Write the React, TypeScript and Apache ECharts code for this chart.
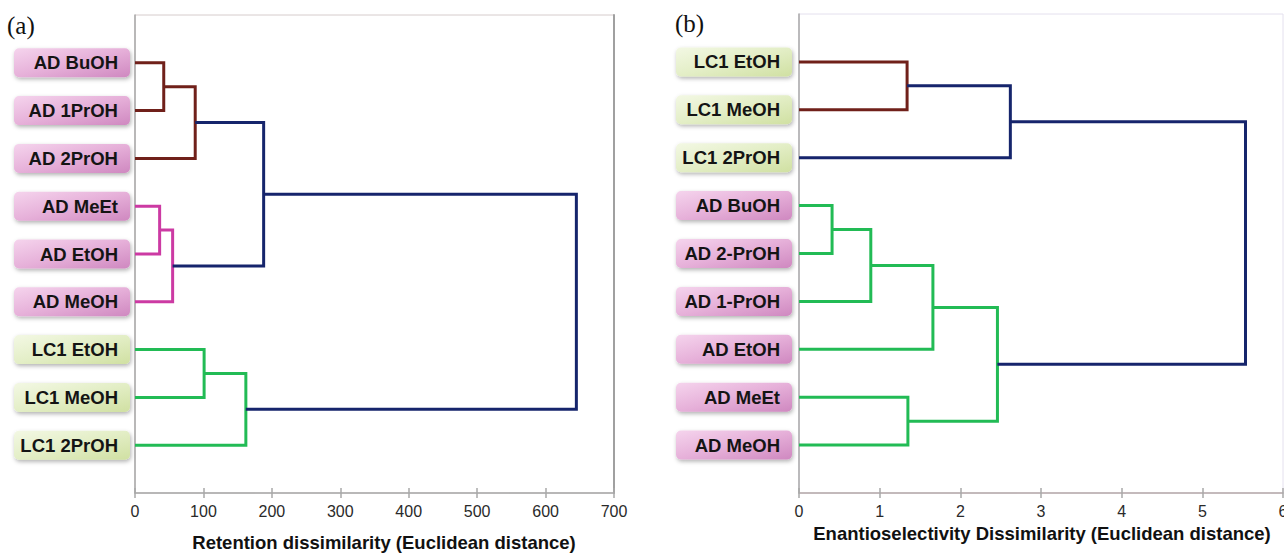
import React, { useEffect, useRef } from "react";
import * as echarts from "echarts";

// ---------- data ----------
const leftLeaves = ["AD BuOH", "AD 1PrOH", "AD 2PrOH", "AD MeEt", "AD EtOH", "AD MeOH", "LC1 EtOH", "LC1 MeOH", "LC1 2PrOH"];
// merges: child ids (0..8 leaves, 9+ earlier merges), height, group
const leftMergeA = [0, 9, 3, 11, 10, 6, 14, 13];
const leftMergeB = [1, 2, 4, 5, 12, 7, 8, 15];
const leftMergeHeight = [42, 88, 36, 55, 188, 101, 162, 645];
const leftMergeGroup = ["c1", "c1", "c2", "c2", "link", "c3", "c3", "link"];
const leftTicks = [0, 100, 200, 300, 400, 500, 600, 700];

const rightLeaves = ["LC1 EtOH", "LC1 MeOH", "LC1 2PrOH", "AD BuOH", "AD 2-PrOH", "AD 1-PrOH", "AD EtOH", "AD MeEt", "AD MeOH"];
const rightMergeA = [0, 9, 3, 11, 12, 7, 13, 10];
const rightMergeB = [1, 2, 4, 5, 6, 8, 14, 15];
const rightMergeHeight = [1.34, 2.62, 0.41, 0.89, 1.66, 1.35, 2.46, 5.535];
const rightMergeGroup = ["c1", "link", "c3", "c3", "c3", "c3", "c3", "link"];
const rightTicks = [0, 1, 2, 3, 4, 5, 6];

const leftTitle = "Retention dissimilarity (Euclidean distance)";
const rightTitle = "Enantioselectivity Dissimilarity (Euclidean distance)";

const groupColor: Record<string, string> = {
  c1: "#70201a",
  c2: "#cc3aa3",
  c3: "#22bb55",
  link: "#16256c",
};

function buildLinks(n: number, A: number[], B: number[], H: number[]) {
  const ys: number[] = [];
  const hs: number[] = [];
  for (let i = 0; i < n; i++) {
    ys.push(i);
    hs.push(0);
  }
  const links: number[][][] = [];
  for (let i = 0; i < A.length; i++) {
    const a = A[i];
    const b = B[i];
    links.push([
      [hs[a], ys[a]],
      [H[i], ys[a]],
      [H[i], ys[b]],
      [hs[b], ys[b]],
    ]);
    ys.push((ys[a] + ys[b]) / 2);
    hs.push(H[i]);
  }
  return links;
}

const FONT = "Liberation Sans, Arial, sans-serif";

function boxStyle(kind: "ad" | "lc") {
  const grad =
    kind === "ad"
      ? new echarts.graphic.LinearGradient(0, 0, 1, 1, [
          { offset: 0, color: "#f5d4ed" },
          { offset: 0.5, color: "#e6b0d9" },
          { offset: 1, color: "#cf88c0" },
        ])
      : new echarts.graphic.LinearGradient(0, 0, 1, 1, [
          { offset: 0, color: "#f3f8e4" },
          { offset: 0.5, color: "#e3eec6" },
          { offset: 1, color: "#d0e0a2" },
        ]);
  return {
    backgroundColor: grad,
    borderRadius: 5,
    width: 100,
    height: 29,
    lineHeight: 29,
    padding: [0, 12, 0, 4],
    align: "right",
    fontWeight: "bold",
    fontSize: 18.5,
    fontFamily: FONT,
    color: "#141414",
    shadowBlur: 4,
    shadowColor: "rgba(0,0,0,0.30)",
    shadowOffsetX: 1,
    shadowOffsetY: 2,
  };
}

function leafFormatter(leaves: string[]) {
  return (v: number) => {
    const i = Math.round(v);
    if (i < 0 || i >= leaves.length || Math.abs(v - i) > 1e-6) return "";
    const name = leaves[i];
    return name.startsWith("AD") ? `{ad|${name}}` : `{lc|${name}}`;
  };
}

export default function App() {
  const ref = useRef<HTMLDivElement>(null);

  useEffect(() => {
    if (!ref.current) return;
    const chart = echarts.init(ref.current, undefined, { renderer: "svg" });

    const leftLinks = buildLinks(leftLeaves.length, leftMergeA, leftMergeB, leftMergeHeight);
    const rightLinks = buildLinks(rightLeaves.length, rightMergeA, rightMergeB, rightMergeHeight);

    const series: any[] = [];
    leftLinks.forEach((pts, i) => {
      series.push({
        type: "line",
        xAxisIndex: 0,
        yAxisIndex: 0,
        data: pts,
        symbol: "none",
        silent: true,
        lineStyle: { color: groupColor[leftMergeGroup[i]], width: 3, cap: "butt", join: "miter" },
      });
    });
    rightLinks.forEach((pts, i) => {
      series.push({
        type: "line",
        xAxisIndex: 2,
        yAxisIndex: 2,
        data: pts,
        symbol: "none",
        silent: true,
        lineStyle: { color: groupColor[rightMergeGroup[i]], width: 3, cap: "butt", join: "miter" },
      });
    });

    const tickLabel = { fontSize: 16, color: "#2a2a2a", fontFamily: FONT, margin: 10 };
    const rich = { ad: boxStyle("ad"), lc: boxStyle("lc") };
    const serif = "Liberation Serif, Times New Roman, serif";

    chart.setOption({
      animation: false,
      backgroundColor: "#ffffff",
      grid: [
        { left: 135, top: 15, width: 479, height: 478, show: true, borderColor: "#d6cccc", borderWidth: 1, backgroundColor: "transparent", outerBoundsMode: "none", containLabel: false },
        { left: 799, top: 14, width: 484, height: 479, show: true, borderColor: "#e4e0ee", borderWidth: 1, backgroundColor: "transparent", outerBoundsMode: "none", containLabel: false },
      ],
      xAxis: [
        {
          type: "value", gridIndex: 0, min: leftTicks[0], max: leftTicks[leftTicks.length - 1], interval: 100, position: "bottom",
          axisLine: { show: true, onZero: false, lineStyle: { color: "#a8a8a8", width: 1.5 } },
          axisTick: { show: true, length: 5, lineStyle: { color: "#a8a8a8", width: 1.5 } },
          axisLabel: tickLabel,
          splitLine: { show: false },
        },
        {
          type: "value", gridIndex: 0, min: leftTicks[0], max: leftTicks[leftTicks.length - 1], interval: 100, position: "bottom",
          axisLine: { show: false, onZero: false },
          axisTick: { show: true, inside: true, length: 5, lineStyle: { color: "#a8a8a8", width: 1.5 } },
          axisLabel: { show: false },
          splitLine: { show: false },
        },
        {
          type: "value", gridIndex: 1, min: rightTicks[0], max: rightTicks[rightTicks.length - 1], interval: 1, position: "bottom",
          axisLine: { show: true, onZero: false, lineStyle: { color: "#b4a8a8", width: 1.5 } },
          axisTick: { show: true, length: 5, lineStyle: { color: "#a8a8a8", width: 1.5 } },
          axisLabel: tickLabel,
          splitLine: { show: false },
        },
        {
          type: "value", gridIndex: 1, min: rightTicks[0], max: rightTicks[rightTicks.length - 1], interval: 1, position: "bottom",
          axisLine: { show: false, onZero: false },
          axisTick: { show: true, inside: true, length: 5, lineStyle: { color: "#a8a8a8", width: 1.5 } },
          axisLabel: { show: false },
          splitLine: { show: false },
        },
      ],
      yAxis: [
        {
          type: "value", gridIndex: 0, min: -1, max: 9, interval: 1, inverse: true, position: "left",
          axisLine: { show: true, onZero: false, lineStyle: { color: "#a8a8a8", width: 1.5 } },
          axisTick: { show: false },
          splitLine: { show: false },
          axisLabel: { formatter: leafFormatter(leftLeaves), margin: 5, rich },
        },
        {
          type: "value", gridIndex: 0, min: -1, max: 9, interval: 1, inverse: true, position: "right",
          axisLine: { show: true, onZero: false, lineStyle: { color: "#a0a0a0", width: 2 } },
          axisTick: { show: false },
          splitLine: { show: false },
          axisLabel: { show: false },
        },
        {
          type: "value", gridIndex: 1, min: -1, max: 9, interval: 1, inverse: true, position: "left",
          axisLine: { show: true, onZero: false, lineStyle: { color: "#a8a8a8", width: 1.5 } },
          axisTick: { show: false },
          splitLine: { show: false },
          axisLabel: { formatter: leafFormatter(rightLeaves), margin: 7, rich },
        },
      ],
      graphic: [
        { type: "text", left: 7, top: 13, style: { text: "(a)", fontSize: 25, fontFamily: serif, fill: "#111" } },
        { type: "text", left: 675, top: 11, style: { text: "(b)", fontSize: 25, fontFamily: serif, fill: "#111" } },
        { type: "text", x: 384, y: 542, style: { text: leftTitle, fontSize: 18.5, fontWeight: "bold", fontFamily: FONT, fill: "#111", align: "center", verticalAlign: "middle" } },
        { type: "text", x: 1042, y: 533, style: { text: rightTitle, fontSize: 18.5, fontWeight: "bold", fontFamily: FONT, fill: "#111", align: "center", verticalAlign: "middle" } },
      ],
      series,
    });

    return () => chart.dispose();
  }, []);

  return <div ref={ref} style={{ position: "fixed", left: 0, top: 0, width: 1284, height: 554 }} />;
}
